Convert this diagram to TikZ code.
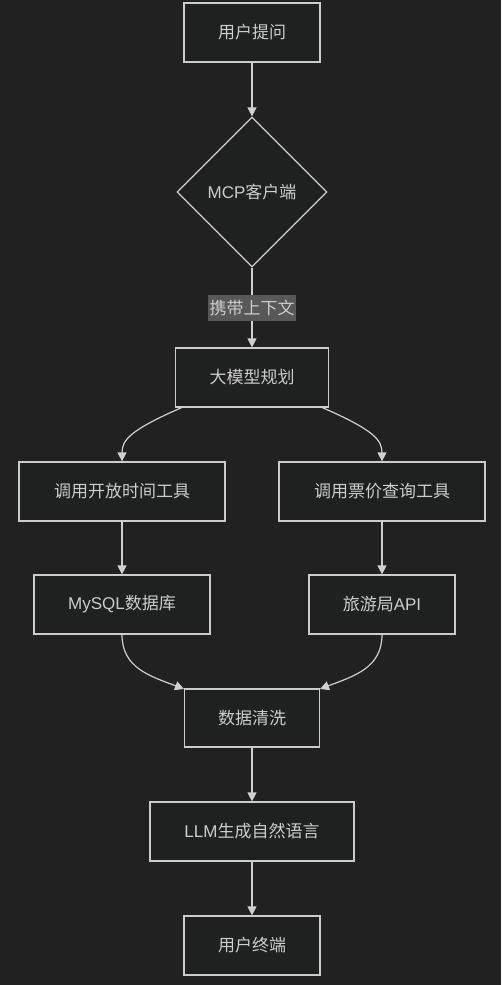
\documentclass[tikz,border=0pt]{standalone}
\usepackage{fontspec}
\setmainfont{Liberation Sans}
\newfontfamily\cjk{Noto Sans CJK SC}
\usetikzlibrary{shapes.geometric,arrows.meta}
\definecolor{bgc}{HTML}{212121}
\definecolor{nodefill}{HTML}{1F2020}
\definecolor{nodeline}{HTML}{CCCCCC}
\definecolor{txt}{HTML}{CCCCCC}
\definecolor{edgec}{HTML}{D0D0D0}
\definecolor{lblbg}{HTML}{585858}
\tikzset{
  box/.style={draw=nodeline, fill=nodefill, line width=1.2pt, text=txt, font=\fontsize{17}{20}\selectfont, inner sep=0pt, anchor=center},
  dia/.style={draw=nodeline, fill=nodefill, line width=1.2pt, text=txt, font=\fontsize{17}{20}\selectfont, diamond, inner sep=0pt, minimum width=150pt, minimum height=150pt, aspect=1},
  edge/.style={draw=edgec, line width=1.2pt, -{Triangle[length=9pt,width=9pt]}},
  lbl/.style={fill=lblbg, text=txt, font=\fontsize{17}{20}\selectfont, inner sep=1pt, minimum height=26pt, minimum width=88pt}
}
\begin{document}
\begin{tikzpicture}[x=1pt,y=-1pt]
\fill[bgc] (0,0) rectangle (501,985);
\useasboundingbox (0,0) rectangle (501,985);
\node[box, minimum width=136pt, minimum height=59pt] (q) at (252,32.5) {\cjk 用户提问};
\node[dia] (mcp) at (252,192) {MCP{\cjk 客户端}};
\node[box, minimum width=153pt, minimum height=59pt] (plan) at (252,377.5) {\cjk 大模型规划};
\node[box, minimum width=206pt, minimum height=59pt] (t1) at (122,491.5) {\cjk 调用开放时间工具};
\node[box, minimum width=206pt, minimum height=59pt] (t2) at (382,491.5) {\cjk 调用票价查询工具};
\node[box, minimum width=176pt, minimum height=59pt] (db) at (122,604.5) {MySQL{\cjk 数据库}};
\node[box, minimum width=146pt, minimum height=59pt] (api) at (382,604.5) {{\cjk 旅游局}API};
\node[box, minimum width=135pt, minimum height=58pt] (clean) at (252,718) {\cjk 数据清洗};
\node[box, minimum width=204pt, minimum height=59pt] (llm) at (252,831.5) {LLM{\cjk 生成自然语言}};
\node[box, minimum width=136pt, minimum height=59pt] (end) at (252,945.5) {\cjk 用户终端};

\coordinate (p1) at (183,407);
\coordinate (p2) at (321,407);
\coordinate (c1) at (184,689);
\coordinate (c2) at (320,689);

\draw[edge] (q) -- (mcp);
\draw[edge] (mcp) -- node[lbl] (lab) {\cjk 携带上下文} (plan);
\draw[edge] (p1) .. controls (130,430) and (122,440) .. (t1.north);
\draw[edge] (p2) .. controls (374,430) and (382,440) .. (t2.north);
\draw[edge] (t1) -- (db);
\draw[edge] (t2) -- (api);
\draw[edge] (db.south) .. controls (122,668) and (150,676) .. (c1);
\draw[edge] (api.south) .. controls (382,668) and (354,676) .. (c2);
\draw[edge] (clean) -- (llm);
\draw[edge] (llm) -- (end);
\end{tikzpicture}
\end{document}
